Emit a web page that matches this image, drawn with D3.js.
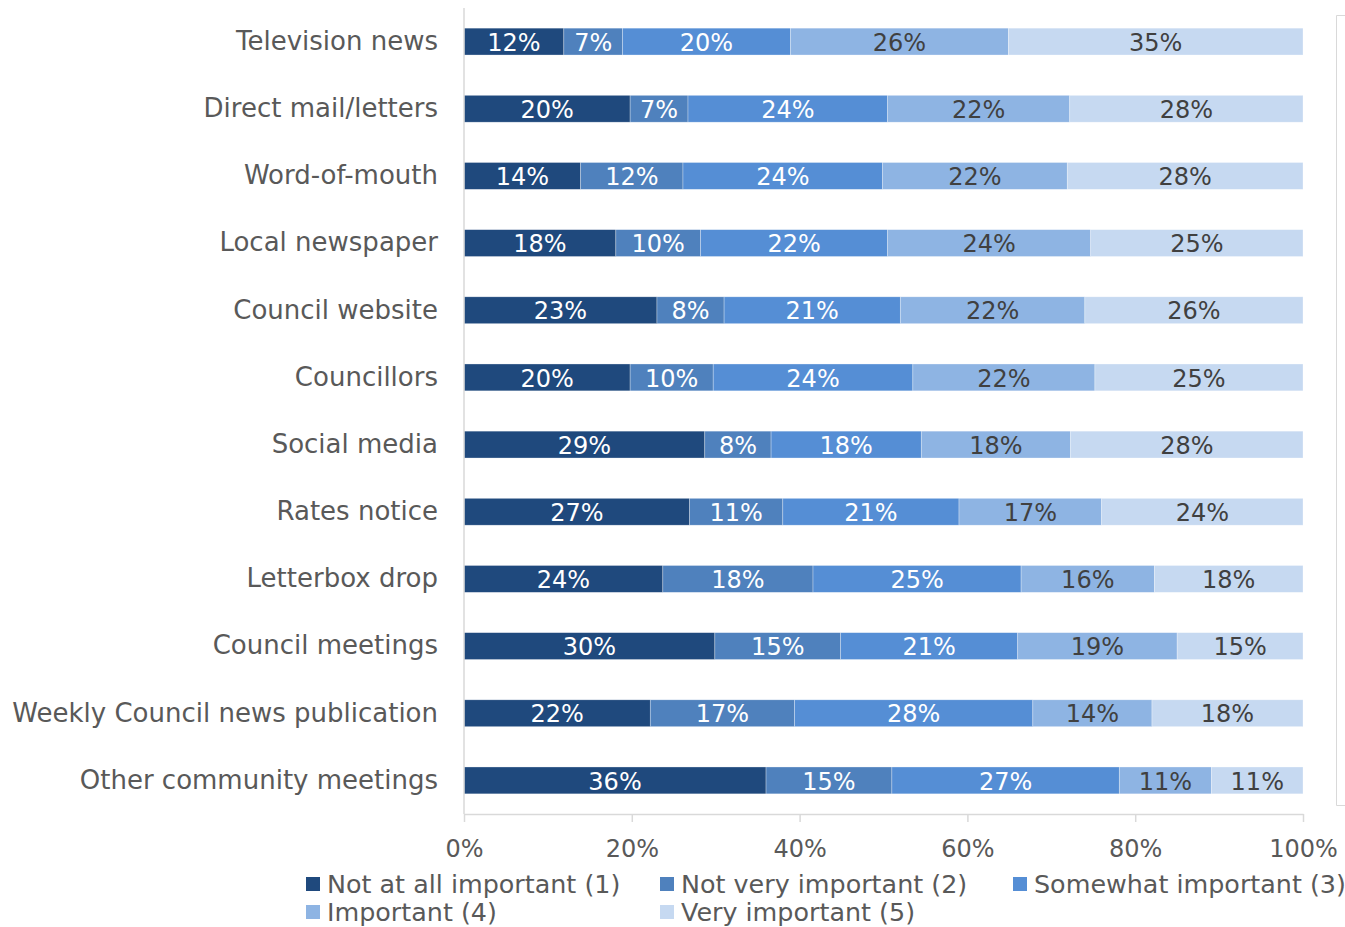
<!DOCTYPE html>
<html>
<head>
<meta charset="utf-8">
<script src="https://cdn.jsdelivr.net/npm/d3@7/dist/d3.min.js"></script>
<style>
  html, body { margin: 0; padding: 0; background: #ffffff; }
  svg { display: block; }
  text { font-family: "DejaVu Sans", "Noto Sans", sans-serif; }
</style>
</head>
<body>
<svg id="chart" width="1345" height="927"></svg>
<script>
// Communication channels, top to bottom
const channels = [
  "Television news", "Direct mail/letters", "Word-of-mouth", "Local newspaper",
  "Council website", "Councillors", "Social media", "Rates notice",
  "Letterbox drop", "Council meetings", "Weekly Council news publication",
  "Other community meetings"
];

// Rating levels (stack order, left to right)
const levels = [
  "Not at all important (1)", "Not very important (2)", "Somewhat important (3)",
  "Important (4)", "Very important (5)"
];

// Share of respondents (%) per level, one value per channel
const notAtAll    = [11.9, 19.8, 13.9, 18.1, 23.0, 19.8, 28.7, 26.9, 23.7, 29.9, 22.2, 36.0];
const notVery     = [ 7.0,  6.9, 12.2, 10.1,  8.0,  9.9,  7.9, 11.1, 17.9, 15.0, 17.2, 15.0];
const somewhat    = [20.0, 23.8, 23.8, 22.3, 21.0, 23.8, 17.9, 21.0, 24.8, 21.1, 28.4, 27.1];
const important   = [26.0, 21.7, 22.0, 24.2, 22.0, 21.7, 17.8, 17.0, 15.9, 19.0, 14.2, 11.0];
const veryImp     = [35.1, 27.8, 28.1, 25.3, 26.0, 24.8, 27.7, 24.0, 17.7, 15.0, 18.0, 10.9];

const axisTicks = [0, 20, 40, 60, 80, 100];

const colors = ["#1F497D", "#4F81BD", "#558ED5", "#8EB4E3", "#C6D9F1"];
const labelColors = ["#ffffff", "#ffffff", "#ffffff", "#404040", "#404040"];

const series = [notAtAll, notVery, somewhat, important, veryImp];
const rows = channels.map((c, i) => {
  const r = { channel: c };
  levels.forEach((l, k) => { r[l] = series[k][i]; });
  return r;
});

const svg = d3.select("#chart");
const numSize = 24;
const catSize = 26;
const legendSize = 25.4;

const x = d3.scaleLinear().domain([0, 100]).range([464, 1303]);
const y = d3.scaleBand().domain(channels).range([8, 814])
  .paddingInner(0.6).paddingOuter(0.3);

const stacked = d3.stack().keys(levels)(rows);

// Outer frame edge visible at the right
svg.append("path")
  .attr("d", "M1345,15.5 H1336.5 V805.5 H1345")
  .attr("fill", "none").attr("stroke", "#d9d9d9").attr("stroke-width", 1);

// Bars
const layer = svg.append("g").selectAll("g").data(stacked).join("g")
  .attr("fill", (d, i) => colors[i]);

layer.selectAll("rect").data(d => d).join("rect")
  .attr("x", d => x(d[0]))
  .attr("y", d => y(d.data.channel))
  .attr("width", d => x(d[1]) - x(d[0]))
  .attr("height", y.bandwidth())
  .attr("stroke", "#ffffff").attr("stroke-width", 0.6).attr("stroke-opacity", 0.5);

// Segment value labels
const fmt = d3.format(".0f");
stacked.forEach((s, k) => {
  svg.append("g").selectAll("text").data(s).join("text")
    .attr("x", d => (x(d[0]) + x(d[1])) / 2)
    .attr("y", d => y(d.data.channel) + y.bandwidth() / 2)
    .attr("dy", "0.38em")
    .attr("text-anchor", "middle")
    .attr("font-size", numSize)
    .attr("fill", labelColors[k])
    .text(d => fmt(d[1] - d[0]) + "%");
});

// Category axis (left)
const yAxis = svg.append("g").attr("transform", "translate(464,0)")
  .call(d3.axisLeft(y).tickSize(0).tickPadding(26));
yAxis.select(".domain").remove();
yAxis.selectAll("text")
  .attr("font-size", catSize).attr("fill", "#595959")
  .style("font-family", "\"DejaVu Sans\", sans-serif");
svg.append("line")
  .attr("x1", 464).attr("x2", 464).attr("y1", 8).attr("y2", 814)
  .attr("stroke", "#d9d9d9").attr("stroke-width", 1.5);

// Value axis (bottom)
const xAxis = svg.append("g").attr("transform", "translate(0,814)")
  .call(d3.axisBottom(x).tickValues(axisTicks).tickFormat(d => d + "%")
    .tickSizeInner(8).tickSizeOuter(0).tickPadding(18));
xAxis.select(".domain").attr("stroke", "#d9d9d9").attr("stroke-width", 1.5);
xAxis.selectAll(".tick line").attr("stroke", "#d9d9d9").attr("stroke-width", 1.5);
xAxis.selectAll("text")
  .attr("font-size", numSize).attr("fill", "#595959")
  .style("font-family", "\"DejaVu Sans\", sans-serif");

// Legend
const legendCols = [306, 660, 1013];
const legendRows = [877, 905];
const legend = svg.append("g").selectAll("g").data(levels).join("g")
  .attr("transform", (d, i) => `translate(${legendCols[i % 3]},${legendRows[Math.floor(i / 3)]})`);
legend.append("rect").attr("width", 14).attr("height", 14)
  .attr("fill", (d, i) => colors[i]);
legend.append("text")
  .attr("x", 21).attr("y", 7).attr("dy", "0.36em")
  .attr("font-size", legendSize).attr("fill", "#595959")
  .text(d => d);
</script>
</body>
</html>
